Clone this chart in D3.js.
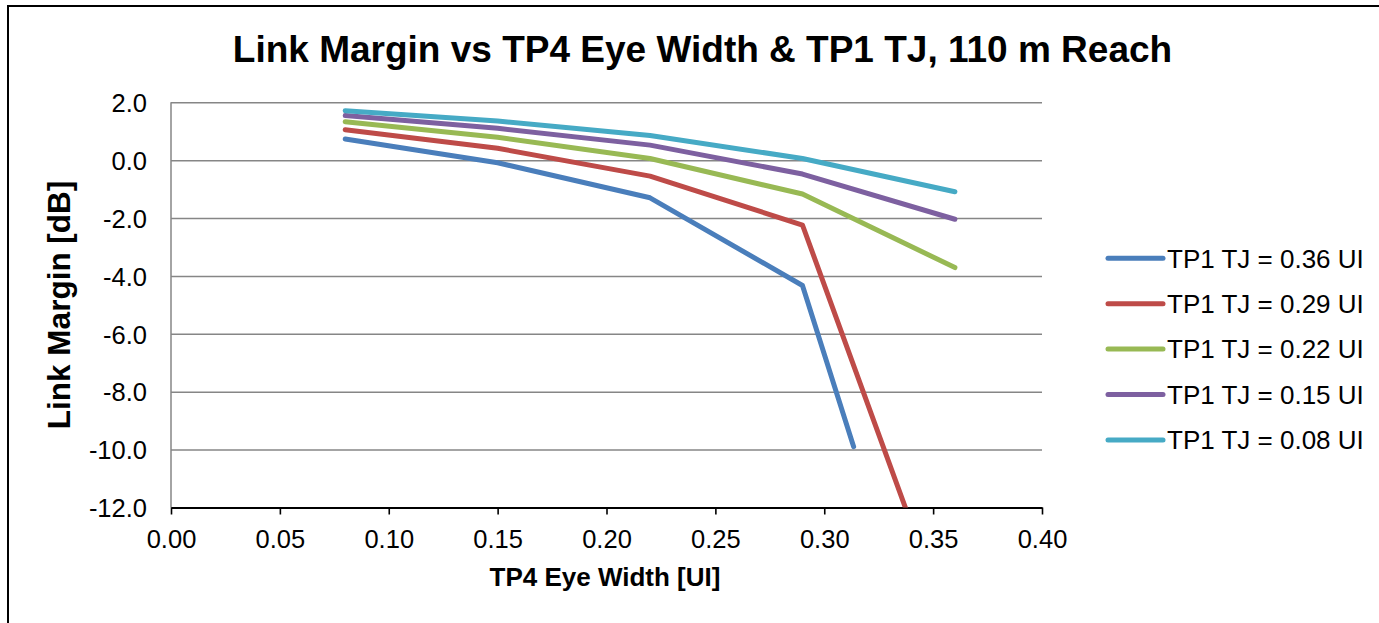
<!DOCTYPE html>
<html>
<head>
<meta charset="utf-8">
<script src="https://cdn.jsdelivr.net/npm/d3@7"></script>
<style>
  body { margin: 0; background: #fff; }
  text { font-family: "Liberation Sans", Arial, sans-serif; fill: #000; }
</style>
</head>
<body>
<div id="chart"></div>
<script>
// data
const seriesNames = ["TP1 TJ = 0.36 UI", "TP1 TJ = 0.29 UI", "TP1 TJ = 0.22 UI", "TP1 TJ = 0.15 UI", "TP1 TJ = 0.08 UI"];
const seriesColors = ["#4a7ebb", "#be4b48", "#98b954", "#7d60a0", "#46aac5"];
const eyeWidth = [0.08, 0.15, 0.22, 0.29, 0.36];
const eyeWidthTj036 = [0.08, 0.15, 0.22, 0.29, 0.3135];   // blue curve stops early
const marginTj036 = [0.73, -0.09, -1.30, -4.33, -9.90];
const marginTj029 = [1.05, 0.41, -0.55, -2.24, -16.7];
const marginTj022 = [1.33, 0.79, 0.06, -1.17, -3.71];
const marginTj015 = [1.54, 1.10, 0.52, -0.48, -2.04];
const marginTj008 = [1.71, 1.35, 0.85, 0.06, -1.09];
const xTicks = [0, 0.05, 0.10, 0.15, 0.20, 0.25, 0.30, 0.35, 0.40];
const yTicks = [2, 0, -2, -4, -6, -8, -10, -12];

const W = 1379, H = 623;
const plot = {left: 171, right: 1042, top: 102.3, bottom: 507.5};

const svg = d3.select("#chart").append("svg").attr("width", W).attr("height", H);

// outer chart border (only left/top visible in the crop)
svg.append("rect").attr("x", 8).attr("y", 6).attr("width", W + 20).attr("height", H + 20)
    .attr("fill", "none").attr("stroke", "#000").attr("stroke-width", 2);

const x = d3.scaleLinear().domain([0, 0.4]).range([plot.left, plot.right]);
const y = d3.scaleLinear().domain([-12, 2]).range([plot.bottom, plot.top]);

// gridlines + y labels
const gY = svg.append("g").attr("transform", "translate(" + plot.left + ",0)")
    .call(d3.axisLeft(y).tickValues(yTicks).tickSize(-(plot.right - plot.left))
        .tickPadding(24).tickFormat(d => d.toFixed(1)));
gY.select(".domain").remove();
gY.selectAll(".tick line").attr("stroke", "#868686").attr("stroke-width", 1.5);
gY.selectAll(".tick text").attr("font-size", "25.5px").attr("dy", "0.36em");

// left axis line (gray)
svg.append("line").attr("x1", plot.left).attr("x2", plot.left)
    .attr("y1", plot.top).attr("y2", plot.bottom)
    .attr("stroke", "#868686").attr("stroke-width", 1.5);

// x axis
const gX = svg.append("g").attr("transform", "translate(0," + plot.bottom + ")")
    .call(d3.axisBottom(x).tickValues(xTicks).tickSize(7).tickSizeOuter(0)
        .tickPadding(15.4).tickFormat(d => d.toFixed(2)));
gX.select(".domain").attr("stroke", "#000").attr("stroke-width", 2.2);
gX.selectAll(".tick line").attr("stroke", "#000").attr("stroke-width", 1.6);
gX.selectAll(".tick text").attr("font-size", "25.5px");

// clip to plot area
svg.append("clipPath").attr("id", "plotClip").append("rect")
    .attr("x", plot.left).attr("y", plot.top - 10)
    .attr("width", plot.right - plot.left + 10).attr("height", plot.bottom - plot.top + 10);

const seriesData = [
    d3.zip(eyeWidthTj036, marginTj036),
    d3.zip(eyeWidth, marginTj029),
    d3.zip(eyeWidth, marginTj022),
    d3.zip(eyeWidth, marginTj015),
    d3.zip(eyeWidth, marginTj008)
];

const line = d3.line().x(d => x(d[0])).y(d => y(d[1]));

svg.append("g").attr("clip-path", "url(#plotClip)")
    .selectAll("path").data(seriesData).enter().append("path")
    .attr("d", line)
    .attr("fill", "none")
    .attr("stroke", (d, i) => seriesColors[i])
    .attr("stroke-width", 5)
    .attr("stroke-linejoin", "round")
    .attr("stroke-linecap", "round");

// title & axis labels
svg.append("text").attr("x", 702.5).attr("y", 62).attr("text-anchor", "middle")
    .attr("font-size", "37px").attr("font-weight", "bold")
    .text("Link Margin vs TP4 Eye Width & TP1 TJ, 110 m Reach");

svg.append("text").attr("x", 605).attr("y", 586).attr("text-anchor", "middle")
    .attr("font-size", "26px").attr("font-weight", "bold")
    .text("TP4 Eye Width [UI]");

svg.append("text").attr("transform", "translate(70," + (plot.top + plot.bottom) / 2 + ") rotate(-90)")
    .attr("text-anchor", "middle")
    .attr("font-size", "31.5px").attr("font-weight", "bold")
    .text("Link Margin [dB]");

// legend
const legend = svg.append("g").attr("transform", "translate(1108,258.3)");
const item = legend.selectAll("g").data(seriesNames).enter().append("g")
    .attr("transform", (d, i) => "translate(0," + i * 45.4 + ")");
item.append("line").attr("x1", 0).attr("x2", 55).attr("y1", 0).attr("y2", 0)
    .attr("stroke", (d, i) => seriesColors[i]).attr("stroke-width", 5)
    .attr("stroke-linecap", "round");
item.append("text").attr("x", 59).attr("y", 9.3)
    .attr("font-size", "26px").text(d => d);
</script>
</body>
</html>
